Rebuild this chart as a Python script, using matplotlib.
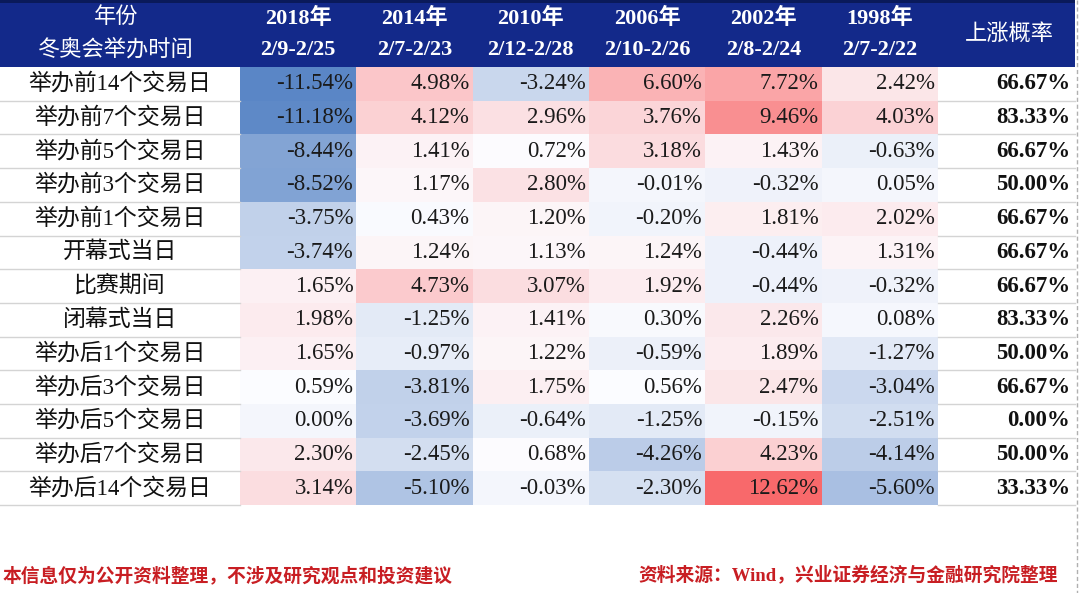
import numpy as np
import matplotlib
matplotlib.use("Agg")
import matplotlib.pyplot as plt
from matplotlib.colors import LinearSegmentedColormap, TwoSlopeNorm

# ---------------- data ----------------
years = ["2018年", "2014年", "2010年", "2006年", "2002年", "1998年"]
periods = ["2/9-2/25", "2/7-2/23", "2/12-2/28", "2/10-2/26", "2/8-2/24", "2/7-2/22"]
row_labels = ["举办前14个交易日", "举办前7个交易日", "举办前5个交易日", "举办前3个交易日",
              "举办前1个交易日", "开幕式当日", "比赛期间", "闭幕式当日",
              "举办后1个交易日", "举办后3个交易日", "举办后5个交易日", "举办后7个交易日",
              "举办后14个交易日"]
col_2018 = [-11.54, -11.18, -8.44, -8.52, -3.75, -3.74, 1.65, 1.98, 1.65, 0.59, 0.00, 2.30, 3.14]
col_2014 = [4.98, 4.12, 1.41, 1.17, 0.43, 1.24, 4.73, -1.25, -0.97, -3.81, -3.69, -2.45, -5.10]
col_2010 = [-3.24, 2.96, 0.72, 2.80, 1.20, 1.13, 3.07, 1.41, 1.22, 1.75, -0.64, 0.68, -0.03]
col_2006 = [6.60, 3.76, 3.18, -0.01, -0.20, 1.24, 1.92, 0.30, -0.59, 0.56, -1.25, -4.26, -2.30]
col_2002 = [7.72, 9.46, 1.43, -0.32, 1.81, -0.44, -0.44, 2.26, 1.89, 2.47, -0.15, 4.23, 12.62]
col_1998 = [2.42, 4.03, -0.63, 0.05, 2.02, 1.31, -0.32, 0.08, -1.27, -3.04, -2.51, -4.14, -5.60]
up_prob = [66.67, 83.33, 66.67, 50.00, 66.67, 66.67, 66.67, 83.33, 50.00, 66.67, 0.00, 50.00, 33.33]
header_left = ["年份", "冬奥会举办时间"]
header_right = "上涨概率"
note_left = "本信息仅为公开资料整理，不涉及研究观点和投资建议"
note_right = "资料来源：Wind，兴业证券经济与金融研究院整理"

values = np.array([col_2018, col_2014, col_2010, col_2006, col_2002, col_1998]).T

# ---------------- layout ----------------
W, H = 1080, 593
fig = plt.figure(figsize=(W / 100, H / 100), dpi=100)
ax = fig.add_axes([0, 0, 1, 1])
ax.set_xlim(0, W)
ax.set_ylim(H, 0)
ax.axis("off")

FONT = ["Liberation Serif", "Noto Sans CJK SC", "DejaVu Sans"]
NAVY = "#13298a"
RED_TXT = "#c81e23"

header_top, header_bot = 0, 67
row_h = 33.7
n_rows = len(row_labels)
row_edges = header_bot + row_h * np.arange(n_rows + 1)
label_x0, label_x1 = 0, 240
col_w = 116.3
col_edges = label_x1 + col_w * np.arange(len(years) + 1)
last_x1 = 1075

# header band
ax.add_patch(plt.Rectangle((0, header_top), last_x1, header_bot - header_top,
                           color=NAVY, lw=0, zorder=1))
ax.add_patch(plt.Rectangle((0, 0), last_x1, 3, color="#0a1a5a", lw=0, zorder=1.5))

# heat map cells
cmap = LinearSegmentedColormap.from_list("rwb", ["#5A86C6", "#FCFCFF", "#F8696B"])
norm = TwoSlopeNorm(vmin=values.min(), vcenter=float(np.median(values)), vmax=values.max())
ax.pcolormesh(col_edges, row_edges, values, cmap=cmap, norm=norm, shading="flat", zorder=2)

# row separator lines (label + last column)
for y in row_edges[1:]:
    ax.plot([label_x0, label_x1], [y, y], color="#d4d4d4", lw=1, zorder=3)
    ax.plot([col_edges[-1], last_x1], [y, y], color="#d4d4d4", lw=1, zorder=3)
ax.plot([1076.5, 1076.5], [0, H], color="#b0b0b0", lw=1, ls=(0, (3, 2)), zorder=3)

# header text
hy1, hy2 = 18, 50
ax.text(116, hy1, header_left[0], color="white", fontsize=16, family=FONT,
        ha="center", va="center", zorder=4)
ax.text(116, hy2, header_left[1], color="white", fontsize=16, family=FONT,
        ha="center", va="center", zorder=4)
for j, (yr, pr) in enumerate(zip(years, periods)):
    cx = (col_edges[j] + col_edges[j + 1]) / 2
    ax.text(cx, hy1, yr, color="white", fontsize=16, family=FONT, weight="bold",
            ha="center", va="center", zorder=4)
    ax.text(cx, hy2, pr, color="white", fontsize=16, family=FONT, weight="bold",
            ha="center", va="center", zorder=4)
ax.text((col_edges[-1] + last_x1) / 2 + 3, 34, header_right, color="white", fontsize=16,
        family=FONT, ha="center", va="center", zorder=4)

# body text
for i, lab in enumerate(row_labels):
    cy = (row_edges[i] + row_edges[i + 1]) / 2
    ax.text(120, cy, lab, color="#111111", fontsize=16.5, family=FONT,
            ha="center", va="center", zorder=4)
    for j in range(len(years)):
        ax.text(col_edges[j + 1] - 3, cy, f"{values[i, j]:.2f}%", color="#1a1a1a",
                fontsize=16.5, family=FONT, ha="right", va="center", zorder=4)
    ax.text(last_x1 - 5, cy, f"{up_prob[i]:.2f}%", color="#111111", fontsize=16.5,
            family=FONT, weight="bold", ha="right", va="center", zorder=4)

# footer notes
ax.text(3, 576, note_left, color=RED_TXT, fontsize=13.5, family=FONT, weight="bold",
        ha="left", va="center", zorder=4)
ax.text(1058, 576, note_right, color=RED_TXT, fontsize=13.5, family=FONT, weight="bold",
        ha="right", va="center", zorder=4)

fig.savefig("out.png", dpi=100)
